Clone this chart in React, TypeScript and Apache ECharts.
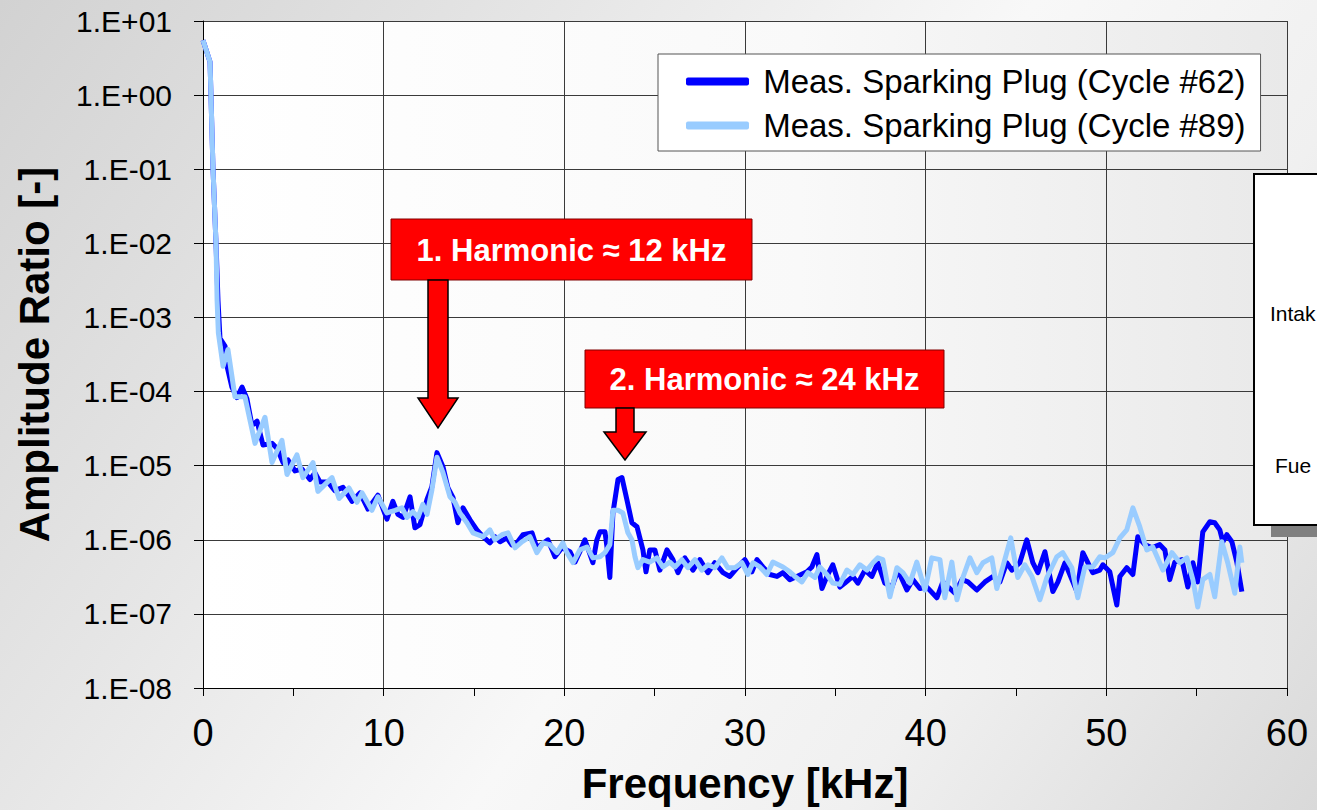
import React, { useEffect, useRef } from 'react';
import * as echarts from 'echarts';

const seriesNames = ['Meas. Sparking Plug (Cycle #62)', 'Meas. Sparking Plug (Cycle #89)'];
const seriesColors = ['#0000ff', '#99ccff'];

// Cycle #62 (dark blue): frequency [kHz] and amplitude ratio [-]
const freq62 = [
  0, 0.39, 0.55, 0.72, 0.83, 0.94, 1.22, 1.33, 1.6, 1.88, 2.16, 2.43, 2.71, 2.99, 3.32, 3.82, 4.1, 4.43, 4.7, 5.09,
  5.48, 5.92, 6.2, 6.48, 6.92, 7.3, 7.75, 8.25, 8.69, 9.13, 9.68, 10.18, 10.51, 10.79, 11.07, 11.46, 11.73, 12.01, 12.4, 12.67,
  12.95, 13.28, 13.56, 13.84, 14.11, 14.39, 14.78, 15.16, 15.5, 15.88, 16.16, 16.44, 16.82, 17.1, 17.38, 17.71, 18.21, 18.48, 19.09, 19.48,
  19.87, 20.31, 20.59, 20.86, 21.14, 21.58, 21.8, 21.97, 22.25, 22.36, 22.52, 22.69, 22.97, 23.19, 23.46, 23.74, 24.02, 24.35, 24.52, 24.73,
  25.01, 25.29, 25.68, 26.01, 26.29, 26.67, 27.12, 27.5, 27.95, 28.33, 28.78, 29.16, 29.61, 29.99, 30.38, 30.66, 30.99, 31.38, 31.77, 32.1,
  32.48, 32.87, 33.43, 33.7, 33.98, 34.26, 34.53, 34.86, 35.25, 35.53, 35.97, 36.25, 36.64, 37.02, 37.35, 37.74, 38.13, 38.46, 38.96, 39.29,
  39.68, 40.07, 40.62, 40.95, 41.34, 41.62, 42.01, 42.34, 42.83, 43.28, 43.72, 44.11, 44.49, 44.77, 45.21, 45.6, 45.93, 46.21, 46.6, 47.04,
  47.32, 47.71, 48.37, 48.7, 49.25, 49.64, 49.81, 50.19, 50.58, 50.75, 51.13, 51.47, 51.74, 52.13, 52.52, 52.96, 53.24, 53.51, 53.79, 54.18,
  54.51, 54.79, 55.06, 55.34, 55.73, 56.0, 56.28, 56.45, 56.67, 56.95, 57.23, 57.5,
];
const amp62 = [
  5.5, 2.8, 0.107, 0.01, 1.7e-3, 5.2e-4, 4.1e-4, 2.2e-4, 1.15e-4, 8.3e-5, 1.15e-4, 8.0e-5, 3.5e-5, 4.0e-5, 1.9e-5, 2.0e-5, 1.7e-5, 1.1e-5, 1.2e-5, 8.5e-6,
  9.0e-6, 6.5e-6, 8.0e-6, 6.0e-6, 6.0e-6, 4.6e-6, 5.1e-6, 3.3e-6, 4.3e-6, 2.6e-6, 4.0e-6, 1.9e-6, 3.3e-6, 2.2e-6, 2.0e-6, 3.8e-6, 1.45e-6, 1.6e-6, 3.5e-6, 5.2e-6,
  1.5e-5, 9.7e-6, 5.0e-6, 3.7e-6, 1.7e-6, 2.7e-6, 1.86e-6, 1.36e-6, 1.1e-6, 9.1e-7, 1.1e-6, 9.4e-7, 1.06e-6, 8.5e-7, 9.1e-7, 1.17e-6, 1.24e-6, 7.8e-7, 1.0e-6, 5.9e-7,
  7.8e-7, 6.9e-7, 5.0e-7, 6.9e-7, 1.0e-6, 4.9e-7, 1.0e-6, 1.28e-6, 1.28e-6, 8.0e-7, 3.1e-7, 2.3e-6, 6.5e-6, 6.9e-6, 3.5e-6, 1.7e-6, 1.5e-6, 7.3e-7, 3.7e-7, 7.3e-7,
  7.3e-7, 3.9e-7, 7.3e-7, 5.4e-7, 3.6e-7, 5.7e-7, 3.9e-7, 5.4e-7, 3.6e-7, 4.9e-7, 3.6e-7, 3.2e-7, 4.3e-7, 5.4e-7, 3.7e-7, 5.4e-7, 4.3e-7, 3.4e-7, 3.2e-7, 3.6e-7,
  2.9e-7, 3.2e-7, 3.7e-7, 4.3e-7, 6.3e-7, 2.2e-7, 3.2e-7, 4.6e-7, 2.3e-7, 2.6e-7, 3.2e-7, 2.6e-7, 3.9e-7, 3.2e-7, 4.9e-7, 2.6e-7, 2.3e-7, 3.9e-7, 2.1e-7, 2.9e-7,
  2.2e-7, 2.3e-7, 1.65e-7, 2.7e-7, 2.2e-7, 1.9e-7, 2.9e-7, 2.7e-7, 2.1e-7, 2.7e-7, 3.2e-7, 2.7e-7, 4.9e-7, 3.9e-7, 4.9e-7, 1.0e-6, 4.9e-7, 3.6e-7, 6.9e-7, 2.0e-7,
  2.7e-7, 4.9e-7, 2.0e-7, 6.7e-7, 3.6e-7, 3.9e-7, 4.6e-7, 3.7e-7, 1.32e-7, 3.2e-7, 4.2e-7, 3.4e-7, 1.1e-6, 8.6e-7, 7.8e-7, 8.6e-7, 7.3e-7, 2.9e-7, 5.0e-7, 5.4e-7,
  2.3e-7, 4.9e-7, 2.7e-7, 1.28e-6, 1.75e-6, 1.7e-6, 1.36e-6, 9.4e-7, 1.17e-6, 9.4e-7, 4.9e-7, 2.0e-7,
];

// Cycle #89 (light blue)
const freq89 = [
  0, 0.39, 0.55, 0.72, 0.78, 0.85, 1.11, 1.38, 1.77, 2.32, 2.88, 3.43, 3.82, 4.37, 4.65, 5.2, 5.53, 6.09, 6.36, 7.14,
  7.53, 8.08, 8.52, 8.8, 9.35, 9.68, 10.18, 10.63, 11.01, 11.29, 11.62, 11.9, 12.17, 12.4, 12.67, 12.95, 13.28, 13.67, 13.95, 14.22,
  14.61, 14.94, 15.5, 15.88, 16.16, 16.55, 16.88, 17.27, 17.65, 18.1, 18.48, 18.82, 19.2, 19.59, 19.92, 20.14, 20.48, 20.86, 21.25, 21.58,
  21.97, 22.25, 22.52, 22.69, 22.97, 23.24, 23.52, 23.74, 23.91, 24.07, 24.35, 24.73, 25.12, 25.45, 25.84, 26.12, 26.51, 26.84, 27.23, 27.61,
  27.95, 28.33, 28.72, 29.05, 29.44, 29.83, 30.16, 30.44, 30.82, 31.21, 31.54, 32.1, 32.48, 32.76, 33.15, 33.48, 33.87, 34.14, 34.53, 34.86,
  35.25, 35.64, 35.97, 36.36, 36.75, 37.08, 37.35, 37.63, 38.02, 38.41, 38.74, 39.13, 39.51, 39.96, 40.34, 40.79, 41.06, 41.45, 41.73, 42.06,
  42.45, 42.83, 43.17, 43.66, 43.94, 44.27, 44.71, 45.1, 45.49, 45.88, 46.32, 46.71, 47.26, 47.59, 48.09, 48.42, 48.81, 49.25, 49.64, 49.92,
  50.36, 50.75, 51.13, 51.47, 51.85, 52.24, 52.57, 53.13, 53.63, 54.07, 54.46, 54.79, 55.06, 55.34, 55.73, 56.0, 56.39, 56.72, 57.11, 57.39,
  57.5,
];
const amp89 = [
  5.5, 2.8, 0.107, 0.01, 1.7e-3, 6.2e-4, 2.2e-4, 3.7e-4, 8.5e-5, 8.5e-5, 2.0e-5, 4.5e-5, 1.1e-5, 2.2e-5, 7.6e-6, 1.4e-5, 6.9e-6, 1.1e-5, 4.5e-6, 6.9e-6,
  3.6e-6, 5.0e-6, 3.2e-6, 4.3e-6, 2.5e-6, 3.8e-6, 2.3e-6, 2.5e-6, 2.7e-6, 2.0e-6, 2.4e-6, 2.0e-6, 3.0e-6, 2.2e-6, 4.7e-6, 1.3e-5, 8.1e-6, 3.8e-6, 3.2e-6, 2.3e-6,
  1.7e-6, 1.24e-6, 1.1e-6, 1.36e-6, 1.0e-6, 1.17e-6, 1.24e-6, 7.8e-7, 9.4e-7, 1.1e-6, 6.7e-7, 9.1e-7, 8.6e-7, 6.7e-7, 9.1e-7, 6.7e-7, 4.9e-7, 7.3e-7, 8.0e-7, 5.7e-7,
  5.9e-7, 6.7e-7, 8.6e-7, 2.5e-6, 2.5e-6, 2.3e-6, 1.24e-6, 1.0e-6, 5.9e-7, 4.2e-7, 5.4e-7, 5.0e-7, 5.7e-7, 4.3e-7, 5.0e-7, 4.3e-7, 5.4e-7, 4.2e-7, 5.4e-7, 3.9e-7,
  4.6e-7, 4.2e-7, 5.7e-7, 4.2e-7, 4.2e-7, 4.9e-7, 3.4e-7, 4.9e-7, 4.3e-7, 3.4e-7, 5.0e-7, 4.3e-7, 3.7e-7, 3.2e-7, 2.7e-7, 3.6e-7, 3.1e-7, 4.3e-7, 3.4e-7, 2.6e-7,
  2.5e-7, 3.9e-7, 3.4e-7, 4.6e-7, 3.9e-7, 4.9e-7, 5.7e-7, 5.4e-7, 1.7e-7, 4.2e-7, 3.6e-7, 2.6e-7, 5.0e-7, 2.1e-7, 5.7e-7, 5.4e-7, 1.65e-7, 5.0e-7, 1.55e-7, 3.1e-7,
  5.7e-7, 3.6e-7, 4.9e-7, 5.7e-7, 2.2e-7, 4.3e-7, 1.06e-6, 3.1e-7, 4.6e-7, 3.2e-7, 1.55e-7, 3.1e-7, 5.9e-7, 6.7e-7, 4.2e-7, 1.65e-7, 4.3e-7, 4.3e-7, 5.9e-7, 5.7e-7,
  6.7e-7, 1.06e-6, 1.36e-6, 2.7e-6, 1.5e-6, 7.3e-7, 8.0e-7, 3.9e-7, 6.7e-7, 4.9e-7, 5.7e-7, 2.9e-7, 1.24e-7, 2.9e-7, 3.4e-7, 1.7e-7, 9.4e-7, 4.9e-7, 1.9e-7, 8.0e-7,
  4.9e-7,
];

const annotation1 = '1. Harmonic ≈ 12 kHz';
const annotation2 = '2. Harmonic ≈ 24 kHz';
// only these fragments of the side panel are visible in the reference
const sideTexts = ['Intak', 'Fue'];

const FONT = '"Liberation Sans", Arial, Helvetica, sans-serif';

function fmtExp(v: number): string {
  const e = Math.round(Math.log10(v));
  const a = Math.abs(e);
  return '1.E' + (e < 0 ? '-' : '+') + (a < 10 ? '0' + a : String(a));
}

export default function App() {
  const ref = useRef<HTMLDivElement>(null);

  useEffect(() => {
    if (!ref.current) return;
    const chart = echarts.init(ref.current, undefined, { renderer: 'svg' });
    const d62 = freq62.map((f, i) => [f, amp62[i]]);
    const d89 = freq89.map((f, i) => [f, amp89[i]]);

    const option: any = {
      animation: false,
      backgroundColor: 'transparent',
      grid: {
        left: 203,
        right: 30,
        top: 21,
        bottom: 122,
        containLabel: false,
        outerBoundsMode: 'none',
        show: true,
        borderWidth: 0,
        backgroundColor: new echarts.graphic.LinearGradient(0, 0, 1, 0, [
          { offset: 0, color: '#ffffff' },
          { offset: 0.55, color: '#f9f9f9' },
          { offset: 1, color: '#e9e9e9' },
        ]),
      },
      legend: {
        show: true,
        orient: 'vertical',
        left: 658,
        top: 54,
        backgroundColor: '#ffffff',
        borderColor: '#555555',
        borderWidth: 1,
        padding: [11, 15, 9, 28],
        itemWidth: 63,
        itemHeight: 8,
        itemGap: 11,
        icon: 'roundRect',
        formatter: (name: string) => ' ' + name,
        textStyle: { fontSize: 33, fontFamily: FONT, color: '#000' },
        data: seriesNames,
      },
      xAxis: {
        type: 'value',
        min: 0,
        max: 60,
        interval: 10,
        axisLine: { show: true, lineStyle: { color: '#000', width: 1 } },
        axisTick: { show: true, length: 8, lineStyle: { color: '#000' } },
        minorTick: { show: true, splitNumber: 2, length: 8, lineStyle: { color: '#000' } },
        axisLabel: { fontSize: 38, fontFamily: FONT, color: '#000', margin: 26 },
        splitLine: { show: true, lineStyle: { color: '#3a3a3a', width: 1 } },
        name: 'Frequency [kHz]',
        nameLocation: 'middle',
        nameGap: 74,
        nameTextStyle: { fontSize: 42, fontWeight: 'bold', fontFamily: FONT, color: '#000' },
      },
      yAxis: {
        type: 'log',
        logBase: 10,
        min: 1e-8,
        max: 10,
        axisLine: { show: true, lineStyle: { color: '#000', width: 1 } },
        axisTick: { show: true, length: 9, lineStyle: { color: '#000' } },
        axisLabel: { fontSize: 30, fontFamily: FONT, color: '#000', margin: 31, formatter: fmtExp },
        splitLine: { show: true, lineStyle: { color: '#3a3a3a', width: 1 } },
        name: 'Amplitude Ratio [-]',
        nameLocation: 'middle',
        nameGap: 148,
        nameTextStyle: { fontSize: 42, fontWeight: 'bold', fontFamily: FONT, color: '#000' },
      },
      series: [
        {
          name: seriesNames[0],
          type: 'line',
          data: d62,
          showSymbol: false,
          symbol: 'none',
          color: seriesColors[0],
          lineStyle: { color: seriesColors[0], width: 5, join: 'round' },
          z: 3,
        },
        {
          name: seriesNames[1],
          type: 'line',
          data: d89,
          showSymbol: false,
          symbol: 'none',
          color: seriesColors[1],
          lineStyle: { color: seriesColors[1], width: 5, join: 'round' },
          z: 4,
        },
      ],
      graphic: [
        // right-side partial panel
        { type: 'rect', z: 100, shape: { x: 1271, y: 191, width: 120, height: 346 }, style: { fill: '#808080' } },
        { type: 'rect', z: 101, shape: { x: 1254, y: 174, width: 120, height: 351 }, style: { fill: '#ffffff', stroke: '#000', lineWidth: 2 } },
        { type: 'text', z: 102, x: 1270, y: 313, style: { text: sideTexts[0], fill: '#000', fontSize: 21, fontFamily: FONT, align: 'left', verticalAlign: 'middle', textAlign: 'left', textVerticalAlign: 'middle' } },
        { type: 'text', z: 102, x: 1275, y: 465, style: { text: sideTexts[1], fill: '#000', fontSize: 21, fontFamily: FONT, align: 'left', verticalAlign: 'middle', textAlign: 'left', textVerticalAlign: 'middle' } },
        // annotation 1
        { type: 'rect', z: 100, shape: { x: 391, y: 219, width: 361, height: 61 }, style: { fill: '#ff0000', stroke: '#800000', lineWidth: 1 } },
        { type: 'text', z: 101, x: 571.5, y: 250, style: { text: annotation1, fill: '#ffffff', fontSize: 31, fontWeight: 'bold', fontFamily: FONT, align: 'center', verticalAlign: 'middle', textAlign: 'center', textVerticalAlign: 'middle' } },
        { type: 'polygon', z: 100, shape: { points: [[428, 280], [448, 280], [448, 398], [458, 398], [438, 428], [418, 398], [428, 398]] }, style: { fill: '#ff0000', stroke: '#000', lineWidth: 1.5 } },
        // annotation 2
        { type: 'rect', z: 100, shape: { x: 585, y: 350, width: 359, height: 58 }, style: { fill: '#ff0000', stroke: '#800000', lineWidth: 1 } },
        { type: 'text', z: 101, x: 764.5, y: 379.5, style: { text: annotation2, fill: '#ffffff', fontSize: 31, fontWeight: 'bold', fontFamily: FONT, align: 'center', verticalAlign: 'middle', textAlign: 'center', textVerticalAlign: 'middle' } },
        { type: 'polygon', z: 100, shape: { points: [[616, 408], [634, 408], [634, 432], [646, 432], [625, 460], [604, 432], [616, 432]] }, style: { fill: '#ff0000', stroke: '#000', lineWidth: 1.5 } },
      ],
    };

    chart.setOption(option);
    return () => chart.dispose();
  }, []);

  return (
    <div
      style={{
        position: 'absolute',
        left: 0,
        top: 0,
        width: 1317,
        height: 810,
        overflow: 'hidden',
        background: 'linear-gradient(125deg, #d2d2d2 0%, #e6e6e6 30%, #f8f8f8 55%, #f0f0f0 75%, #d9d9d9 100%)',
      }}
    >
      <div ref={ref} style={{ width: 1317, height: 810 }} />
    </div>
  );
}
